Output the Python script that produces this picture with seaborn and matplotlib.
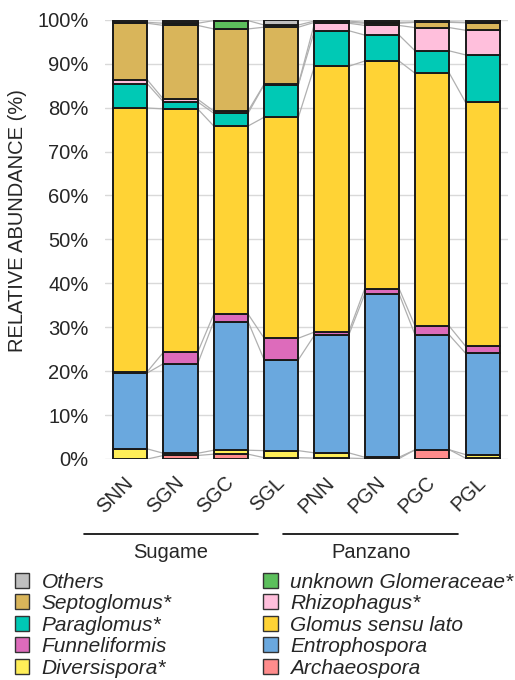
import numpy as np
import pandas as pd
import matplotlib
matplotlib.use("Agg")
import matplotlib.pyplot as plt
import seaborn as sns
from matplotlib.patches import Patch
from matplotlib.lines import Line2D

samples = ["SNN", "SGN", "SGC", "SGL", "PNN", "PGN", "PGC", "PGL"]
groups = ["Sugame", "Panzano"]

# stacked from bottom to top
archaeospora   = [0.0, 0.8, 1.1, 0.3, 0.2, 0.1, 2.1, 0.2]
diversispora   = [2.3, 0.5, 0.9, 1.6, 1.2, 0.3, 0.0, 0.8]
entrophospora  = [17.3, 20.4, 29.3, 20.7, 26.8, 37.2, 26.1, 23.1]
funneliformis  = [0.3, 2.6, 1.7, 4.9, 0.7, 1.2, 2.0, 1.6]
glomus_sl      = [60.0, 55.4, 42.8, 50.3, 60.5, 51.8, 57.6, 55.5]
paraglomus     = [5.5, 1.6, 2.9, 7.4, 8.1, 5.9, 5.1, 10.8]
rhizophagus    = [0.9, 0.6, 0.5, 0.1, 1.7, 2.2, 5.3, 5.6]
septoglomus    = [12.9, 16.8, 18.7, 13.0, 0.2, 0.5, 1.2, 1.7]
unknown_glom   = [0.2, 0.5, 1.9, 0.5, 0.3, 0.2, 0.1, 0.1]
others         = [0.6, 0.6, 0.2, 1.2, 0.3, 0.6, 0.5, 0.6]

layers = [
    ("Archaeospora", archaeospora, "#FF8C8C"),
    ("Diversispora*", diversispora, "#FFEE58"),
    ("Entrophospora", entrophospora, "#6AA8DE"),
    ("Funneliformis", funneliformis, "#DD6BBB"),
    ("Glomus sensu lato", glomus_sl, "#FFD335"),
    ("Paraglomus*", paraglomus, "#00C9B5"),
    ("Rhizophagus*", rhizophagus, "#FFBFDC"),
    ("Septoglomus*", septoglomus, "#D9B55A"),
    ("unknown Glomeraceae*", unknown_glom, "#5CBF5C"),
    ("Others", others, "#BFBFBF"),
]

sns.set_theme(style="white")
plt.rcParams["font.family"] = ["Liberation Sans", "DejaVu Sans"]

FS = 14.5
fig = plt.figure(figsize=(5.15, 6.8), dpi=100)
ax = fig.add_axes([0.204, 0.325, 0.782, 0.646])

W = 0.68
cum = np.zeros(len(samples))
tops = []
for name, vals, col in layers:
    vals = np.array(vals, dtype=float)
    df = pd.DataFrame({"sample": samples, "val": vals})
    sns.barplot(data=df, x="sample", y="val", bottom=cum, color=col,
                edgecolor="#1a1a1a", linewidth=1.4, width=W, ax=ax,
                saturation=1, zorder=3)
    cum = cum + vals
    tops.append(cum.copy())

# series connector lines
for t in tops[:-1]:
    for i in range(len(samples) - 1):
        ax.plot([i + W / 2, i + 1 - W / 2], [t[i], t[i + 1]],
                color="#B0B0B0", lw=0.9, zorder=2)

ax.set_xlim(-0.5, len(samples) - 0.5)
ax.set_ylim(0, 100)
ax.set_yticks(np.arange(0, 101, 10))
ax.set_yticklabels([f"{v}%" for v in range(0, 101, 10)], fontsize=FS)
ax.yaxis.grid(True, color="#D9D9D9", lw=1, zorder=0)
ax.set_axisbelow(True)
for s in ax.spines.values():
    s.set_visible(False)
ax.tick_params(axis="y", length=0, pad=12)
ax.tick_params(axis="x", length=0, pad=15)
ax.set_xlabel("")
ax.set_ylabel("RELATIVE ABUNDANCE (%)", fontsize=FS)
ax.yaxis.set_label_coords(-0.194, 0.542)
ax.set_xticks(range(len(samples)))
ax.set_xticklabels(samples, rotation=45, ha="right", va="center",
                   rotation_mode="anchor", fontsize=FS)

# group lines and labels
trans = matplotlib.transforms.blended_transform_factory(ax.transData, fig.transFigure)
y_line = 1 - 534 / 680
y_txt = 1 - 553 / 680
for (x0, x1), g in zip([(-0.92, 2.54), (3.04, 6.52)], groups):
    fig.add_artist(Line2D([x0, x1], [y_line, y_line], transform=trans,
                          color="black", lw=1.2))
    fig.text((x0 + x1) / 2, y_txt, g, transform=trans, ha="center",
             va="center", fontsize=FS)

# legend
lut = {n: c for n, _, c in layers}
order = ["Others", "Septoglomus*", "Paraglomus*", "Funneliformis", "Diversispora*",
         "unknown Glomeraceae*", "Rhizophagus*", "Glomus sensu lato", "Entrophospora",
         "Archaeospora"]
handles = [Patch(facecolor=lut[n], edgecolor="#333333", lw=1.0, label=n) for n in order]
leg = fig.legend(handles=handles, ncol=2, loc="upper left",
                 bbox_to_anchor=(0.0, 1 - 558 / 680), frameon=False,
                 prop={"style": "italic", "size": 15},
                 handlelength=0.7, handleheight=0.7, handletextpad=0.6,
                 columnspacing=4.4, labelspacing=0.12, borderaxespad=0.3)

fig.savefig("out.png", dpi=100)
